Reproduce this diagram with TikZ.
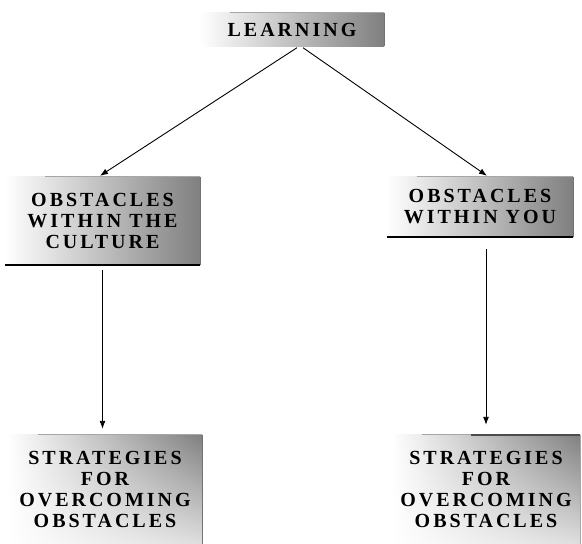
\documentclass[tikz,border=0pt]{standalone}
\usepackage{fontspec}
\usetikzlibrary{arrows.meta,backgrounds,fadings}
\newfontfamily\boxfont[LetterSpace=15]{Liberation Serif}
\pgfdeclarehorizontalshading{halftone}{100bp}{color(0bp)=(white); color(25bp)=(white); color(75bp)=(black!50); color(100bp)=(black!32)}
\tikzfading[name=fadedown, top color=transparent!0, bottom color=transparent!75]
\begin{document}
\begin{tikzpicture}[x=1pt,y=1pt,
  lbl/.style={inner sep=0pt, align=center, font=\boxfont\bfseries\fontsize{20}{21}\selectfont},
  edge/.style={draw=black!55, line width=1.3pt},
  faint/.style={draw=black!35, line width=0.8pt},
  conn/.style={draw, line width=0.9pt, -{Latex[length=8pt,width=6pt]}}]
\useasboundingbox (0,0) rectangle (582,-544);

\node[lbl, minimum width=184, minimum height=33] (learn) at (292,-29.5) {LEARNING};
\node[lbl, minimum width=195, minimum height=88] (cult) at (102.5,-221) {OBSTACLES\\WITHIN THE\\CULTURE};
\node[lbl, minimum width=186, minimum height=60] (you) at (480,-207) {OBSTACLES\\WITHIN YOU};
\node[lbl, minimum width=194, minimum height=109] (strat1) at (105,-489.5) {STRATEGIES\\FOR\\OVERCOMING\\OBSTACLES};
\node[lbl, minimum width=188, minimum height=109] (strat2) at (486,-489.5) {STRATEGIES\\FOR\\OVERCOMING\\OBSTACLES};

\begin{scope}[on background layer]
  \shade[shading=halftone] (learn.south west) rectangle (learn.north east);
  \shade[shading=halftone] (cult.south west) rectangle (cult.north east);
  \shade[shading=halftone] (you.south west) rectangle (you.north east);
  \shade[shading=halftone, path fading=fadedown] (strat1.south west) rectangle (strat1.north east);
  \shade[shading=halftone, path fading=fadedown] (strat2.south west) rectangle (strat2.north east);
\end{scope}

% borders
\draw[faint] ([xshift=30]learn.north west) -- (learn.north east);
\draw[edge] (learn.north east) -- (learn.south east);
\draw[faint] ([xshift=40]cult.north west) -- (cult.north east);
\draw[edge] (cult.north east) -- (cult.south east);
\draw[draw=black, line width=2pt] (cult.south west) -- (cult.south east);
\draw[faint] ([xshift=30]you.north west) -- (you.north east);
\draw[edge] (you.north east) -- (you.south east);
\draw[draw=black, line width=2pt] (you.south west) -- (you.south east);
\draw[faint] ([xshift=30]strat1.north west) -- (strat1.north east);
\draw[edge] (strat1.north east) -- (strat1.south east);
\draw[faint] ([xshift=30]strat2.north west) -- (strat2.north);
\draw[draw=black!70, line width=1.6pt] ([xshift=-15]strat2.north) -- (strat2.north east);
\draw[faint] (strat2.north east) -- (strat2.south east);

% connectors
\draw[conn] ([xshift=5,yshift=-1.5]learn.south) -- ([xshift=-2.5,yshift=1]cult.north);
\draw[conn] ([xshift=11,yshift=-1.5]learn.south) -- ([xshift=7,yshift=1]you.north);
\draw[conn] ([yshift=-5]cult.south) -- ([xshift=-2.5,yshift=6]strat1.north);
\draw[conn] ([xshift=6,yshift=-12]you.south) -- ([yshift=10]strat2.north);
\end{tikzpicture}
\end{document}
